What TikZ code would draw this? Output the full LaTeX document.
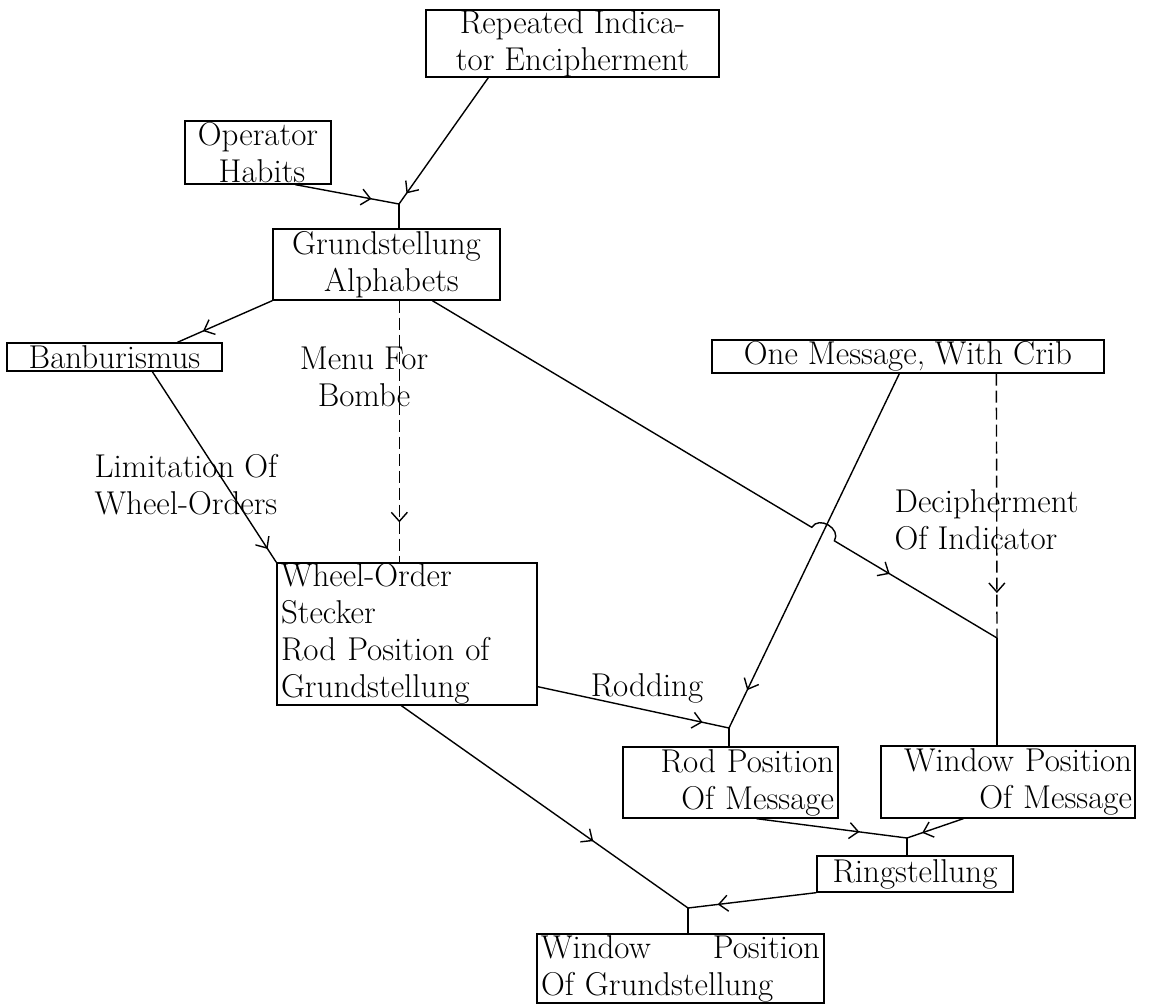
\documentclass[tikz,border=0pt]{standalone}
\usetikzlibrary{arrows.meta,decorations.markings,calc}
\begin{document}
\begin{tikzpicture}[x=1pt,y=-1pt,
  font=\fontsize{33}{37}\selectfont,
  line width=1.4pt,
  box/.style={draw,inner sep=0pt,line width=1.3pt},
  lbl/.style={inner sep=0pt},
  dsh/.style={dash pattern=on 12pt off 5pt},
  arr/.style={postaction={decorate},decoration={markings,mark=at position #1 with {\arrow{Straight Barb[length=9pt,width=16pt]}}}}
]
\fill[white] (0,0) rectangle (1160,1005);
\useasboundingbox (0,0) rectangle (1160,1005);

% boxes
\node[box,minimum width=293pt,minimum height=67pt,align=center] (rep) at (572.5,43.5) {Repeated Indica-\\tor Encipherment};
\node[box,minimum width=146pt,minimum height=63pt,align=center] (op) at (258,152.5) {Operator\\\hspace*{8pt}Habits};
\node[box,minimum width=227pt,minimum height=71pt,align=center] (gru) at (386.5,264.5) {Grundstellung\\\hspace*{10pt}Alphabets};
\node[box,minimum width=215pt,minimum height=28pt] (ban) at (114.5,357) {Banburismus};
\node[box,minimum width=392pt,minimum height=33pt] (one) at (908,356.5) {One Message, With Crib};
\node[box,text width=252pt,inner xsep=4pt,minimum height=142pt,align=left] (wo) at (407,634) {Wheel-Order\\Stecker\\Rod Position of\\Grundstellung};
\node[box,text width=207pt,inner xsep=4pt,minimum height=71pt,align=right] (rod) at (730.5,782.5) {Rod Position\\Of Message};
\node[box,text width=248pt,inner xsep=3pt,minimum height=72pt,align=right] (win) at (1008,782) {Window Position\\Of Message};
\node[box,minimum width=196pt,minimum height=36pt] (ring) at (915,874) {Ringstellung};
\node[box,text width=279pt,inner xsep=4pt,minimum height=69pt,align=left] (wpg) at (680.5,968.5) {Window\hfill Position\\Of Grundstellung};

% labels
\node[lbl,align=center] (menu) at (364,377) {Menu For\\Bombe};
\node[lbl,align=left,anchor=west] (lim) at (94,485) {Limitation Of\\Wheel-Orders};
\node[lbl,align=left,anchor=west] (dec) at (894,520) {Decipherment\\Of Indicator};
\node[lbl] (rodlbl) at (647,688) {Rodding};

% junctions
\coordinate (j1) at (399,204);
\coordinate (jrod) at (729,728);
\coordinate (jwin) at (997,638);
\coordinate (jring) at (907,838);
\coordinate (jwpg) at (688,908);
\coordinate (ga) at ([xshift=160pt]gru.south west);
\coordinate (h1) at ($(ga)!0.672!(jwin)$);
\coordinate (h2) at ($(ga)!0.712!(jwin)$);
\coordinate (c1) at ($(h1)!14pt!90:(h2)$);
\coordinate (c2) at ($(h2)!14pt!-90:(h1)$);

% connectors
\draw[arr=-13pt] ([xshift=63pt]rep.south west) -- (j1);
\draw[arr=-28pt] ([xshift=111pt]op.south west) -- (j1);
\draw (j1) -- (j1 |- gru.north);
\draw[arr=-28pt] (gru.south west) -- ([xshift=171pt]ban.north west);
\draw[dsh,arr=-40pt] ([xshift=127pt]gru.south west) -- ([xshift=123pt]wo.north west);
\draw[arr=-16pt] ([xshift=146pt]ban.south west) -- (wo.north west);
\draw[arr=-125pt] (ga) -- (h1) .. controls (c1) and (c2) .. (h2) -- (jwin);
\draw[arr=-42pt] ([xshift=188pt]one.south west) -- (jrod);
\draw (jrod) -- (jrod |- rod.north);
\draw[arr=-27pt] ([yshift=19pt]wo.south east) -- (jrod);
\draw[dsh,arr=-45pt] ([xshift=285pt]one.south west) -- (jwin);
\draw (jwin) -- (jwin |- win.north);
\draw[arr=-48pt] ([xshift=134pt]rod.south west) -- (jring);
\draw[arr=-16pt] ([xshift=83pt]win.south west) -- (jring);
\draw (jring) -- (jring |- ring.north);
\draw[arr=-116pt] ([xshift=125pt]wo.south west) -- (jwpg);
\draw[arr=-30pt] (ring.south west) -- (jwpg);
\draw (jwpg) -- (jwpg |- wpg.north);
\end{tikzpicture}
\end{document}
